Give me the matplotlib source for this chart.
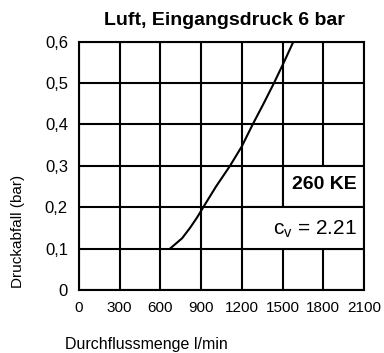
import matplotlib
matplotlib.use("Agg")
import matplotlib.pyplot as plt
from matplotlib.patches import Rectangle

# Flow rate (l/min) vs. pressure drop (bar) for the 260 KE valve
flow = [671, 760, 818, 870, 916, 1010, 1113, 1200, 1280, 1360, 1437, 1510, 1580]
drop = [0.10, 0.125, 0.15, 0.175, 0.20, 0.25, 0.30, 0.347, 0.40, 0.45, 0.50, 0.55, 0.60]

x_ticks = [0, 300, 600, 900, 1200, 1500, 1800, 2100]
x_tick_labels = ["0", "300", "600", "900", "1200", "1500", "1800", "2100"]
y_ticks = [0, 0.1, 0.2, 0.3, 0.4, 0.5, 0.6]
y_tick_labels = ["0", "0,1", "0,2", "0,3", "0,4", "0,5", "0,6"]

title = "Luft, Eingangsdruck 6 bar"
model = "260 KE"
cv_text = r"c$_\mathregular{v}$ = 2.21"

plt.rcParams["font.family"] = ["Liberation Sans", "DejaVu Sans"]

fig = plt.figure(figsize=(3.84, 3.53), dpi=100)
ax = fig.add_axes([0.2057, 0.1785, 0.742, 0.7034])
ax.set_xlim(0, 2100)
ax.set_ylim(0, 0.6)

lw = 1.5
for xv in x_ticks:
    ax.axvline(xv, color="black", lw=lw, zorder=1)
for yv in y_ticks:
    ax.axhline(yv, color="black", lw=lw, zorder=1)

ax.plot(flow, drop, color="black", lw=1.5, zorder=2)

# label boxes covering part of the grid
ax.add_patch(Rectangle((1500, 0.2), 600, 0.1, facecolor="white",
                       edgecolor="black", lw=lw, zorder=3))
ax.add_patch(Rectangle((1200, 0.1), 900, 0.1, facecolor="white",
                       edgecolor="black", lw=lw, zorder=3))
ax.text(2050, 0.255, model, ha="right", va="center", fontsize=14,
        fontweight="bold", zorder=4)
ax.text(2050, 0.146, cv_text, ha="right", va="center", fontsize=15, zorder=4)

for s in ax.spines.values():
    s.set_linewidth(lw)
    s.set_zorder(5)

ax.set_xticks(x_ticks)
ax.set_xticklabels(x_tick_labels, fontsize=11)
ax.set_yticks(y_ticks)
ax.set_yticklabels(y_tick_labels, fontsize=12)
ax.tick_params(axis="x", length=0, pad=8)
ax.tick_params(axis="y", length=0, pad=8)

fig.text(0.584, 0.943, title, ha="center", va="center", fontsize=14,
         fontweight="bold")
fig.text(0.047, 0.345, "Druckabfall (bar)", rotation=90, ha="center",
         va="center", fontsize=11)
fig.text(0.17, 0.024, "Durchflussmenge l/min", ha="left", va="center",
         fontsize=11.5)

fig.savefig("out.png", dpi=100)
